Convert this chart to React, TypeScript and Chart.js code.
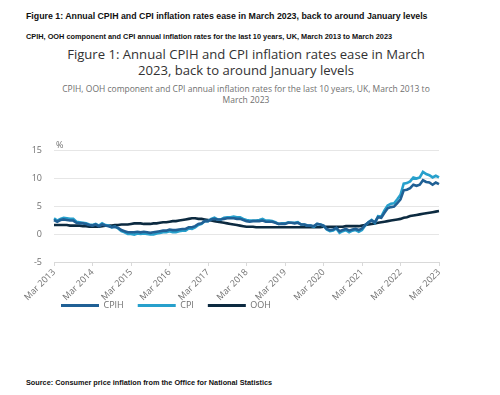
import React, { useEffect, useRef } from "react";
import { Chart, registerables } from "chart.js";

Chart.register(...registerables);

const MONTHS = ["Jan", "Feb", "Mar", "Apr", "May", "Jun", "Jul", "Aug", "Sep", "Oct", "Nov", "Dec"];
const START_YEAR = 2013;
const START_MONTH = 2; // March
const N_POINTS = 121;

const cpih = [
  2.5, 2.2, 2.5, 2.6, 2.5, 2.4, 2.4, 2.0, 1.9, 1.9,
  1.8, 1.6, 1.5, 1.7, 1.4, 1.7, 1.5, 1.4, 1.2, 1.3, 1.1, 0.7,
  0.5, 0.3, 0.3, 0.3, 0.4, 0.3, 0.4, 0.3, 0.2, 0.3, 0.4, 0.5,
  0.6, 0.6, 0.8, 0.7, 0.7, 0.8, 0.9, 0.9, 1.2, 1.2, 1.4, 1.8,
  1.9, 2.3, 2.3, 2.6, 2.7, 2.6, 2.6, 2.7, 2.8, 2.8, 2.8, 2.7,
  2.7, 2.5, 2.3, 2.2, 2.3, 2.3, 2.3, 2.4, 2.2, 2.2, 2.2, 2.0,
  1.8, 1.8, 1.8, 2.0, 2.0, 1.9, 2.0, 1.7, 1.7, 1.5, 1.5, 1.4,
  1.8, 1.7, 1.5, 0.9, 0.7, 0.8, 1.1, 0.5, 0.7, 0.9, 0.6, 0.8,
  0.9, 0.7, 1.0, 1.6, 2.1, 2.4, 2.1, 3.0, 2.9, 3.8, 4.6, 4.8,
  4.9, 5.5, 6.2, 7.8, 7.9, 8.2, 8.8, 8.6, 8.8, 9.6, 9.3, 9.2,
  8.8, 9.2, 8.9,
];

const cpi = [
  2.8, 2.4, 2.7, 2.9, 2.8, 2.7, 2.7, 2.2, 2.1, 2.0,
  1.9, 1.7, 1.6, 1.8, 1.5, 1.9, 1.6, 1.5, 1.2, 1.3, 1.0, 0.5,
  0.3, 0.0, 0.0, -0.1, 0.1, 0.0, 0.1, 0.0, -0.1, -0.1, 0.1, 0.2,
  0.3, 0.3, 0.5, 0.3, 0.3, 0.5, 0.6, 0.6, 1.0, 0.9, 1.2, 1.6,
  1.8, 2.3, 2.3, 2.7, 2.9, 2.6, 2.6, 2.9, 3.0, 3.0, 3.1, 3.0,
  3.0, 2.7, 2.5, 2.4, 2.4, 2.4, 2.5, 2.7, 2.4, 2.4, 2.3, 2.1,
  1.8, 1.9, 1.9, 2.1, 2.0, 2.0, 2.1, 1.7, 1.7, 1.5, 1.5, 1.3,
  1.8, 1.7, 1.5, 0.8, 0.5, 0.6, 1.0, 0.2, 0.5, 0.7, 0.3, 0.6,
  0.7, 0.4, 0.7, 1.5, 2.1, 2.5, 2.0, 3.2, 3.1, 4.2, 5.1, 5.4,
  5.5, 6.2, 7.0, 9.0, 9.1, 9.4, 10.1, 9.9, 10.1, 11.1, 10.7, 10.5,
  10.1, 10.4, 10.1,
];

const ooh = [
  1.6, 1.6, 1.6, 1.6, 1.6, 1.5, 1.5, 1.5, 1.5, 1.4, 1.4, 1.3,
  1.3, 1.3, 1.3, 1.4, 1.5, 1.5, 1.5, 1.6, 1.6, 1.7, 1.7, 1.7,
  1.8, 1.9, 1.9, 1.9, 1.8, 1.8, 1.8, 1.9, 1.9, 2.0, 2.1, 2.1,
  2.2, 2.3, 2.3, 2.4, 2.5, 2.6, 2.7, 2.8, 2.8, 2.7, 2.7, 2.6,
  2.5, 2.4, 2.3, 2.2, 2.1, 2.0, 1.9, 1.8, 1.7, 1.6, 1.5, 1.4,
  1.3, 1.3, 1.3, 1.2, 1.2, 1.2, 1.2, 1.2, 1.2, 1.2, 1.2, 1.2,
  1.2, 1.2, 1.2, 1.2, 1.2, 1.2, 1.2, 1.2, 1.2, 1.2, 1.2, 1.2,
  1.3, 1.3, 1.3, 1.3, 1.3, 1.3, 1.3, 1.4, 1.4, 1.4, 1.4, 1.4,
  1.5, 1.6, 1.7, 1.8, 1.9, 2.0, 2.1, 2.2, 2.3, 2.4, 2.5, 2.6,
  2.7, 2.9, 3.0, 3.2, 3.3, 3.4, 3.5, 3.6, 3.7, 3.8, 3.9, 4.0,
  4.1,
];

const monthLabels: string[] = [];
for (let i = 0; i < N_POINTS; i++) {
  const m = (START_MONTH + i) % 12;
  const y = START_YEAR + Math.floor((START_MONTH + i) / 12);
  monthLabels.push(MONTHS[m] + " " + y);
}

const seriesNames = ["CPIH", "CPI", "OOH"];
const seriesColors = ["#206095", "#27a0cc", "#0c2a40"];
const yTicks = [-5, 0, 5, 10, 15];

const percentPlugin = {
  id: "percentLabel",
  afterDraw(chart: any) {
    const { ctx, chartArea } = chart;
    ctx.save();
    ctx.font = "9px 'Open Sans'";
    ctx.fillStyle = "#707070";
    ctx.textAlign = "left";
    ctx.textBaseline = "middle";
    ctx.fillText("%", chartArea.left + 2, chartArea.top - 5);
    ctx.restore();
  },
};

// place the legend row under the axis labels, left-aligned like the reference
const legendPlacePlugin = {
  id: "legendPlace",
  afterLayout(chart: any) {
    const lg = chart.legend;
    if (!lg) return;
    const dx = 47 - lg.left;
    const dy = 157 - lg.top;
    lg.left += dx;
    lg.right += dx;
    lg.top += dy;
    lg.bottom += dy;
  },
};

function App() {
  const ref = useRef<HTMLCanvasElement | null>(null);

  useEffect(() => {
    if (!ref.current) return;
    const data = [cpih, cpi, ooh];
    const chart = new Chart(ref.current, {
      type: "line",
      data: {
        labels: monthLabels,
        datasets: seriesNames.map((name, i) => ({
          label: name,
          data: data[i],
          borderColor: seriesColors[i],
          backgroundColor: seriesColors[i],
          borderWidth: 2.6,
          pointRadius: 0,
          tension: 0,
        })),
      },
      options: {
        animation: false,
        responsive: false,
        maintainAspectRatio: false,
        layout: { padding: { left: 20, right: 61, top: 20, bottom: 0 } },
        plugins: {
          tooltip: { enabled: false },
          title: { display: false },
          legend: {
            display: true,
            position: "bottom",
            align: "start",
            labels: {
              boxWidth: 38,
              boxHeight: 3,
              padding: 14,
              color: "#707070",
              font: { family: "'Open Sans'", size: 9 },
              generateLabels: (c: any) =>
                Chart.defaults.plugins.legend.labels
                  .generateLabels(c)
                  .map((l: any) => ({ ...l, lineWidth: 0 })),
            },
          },
        },
        scales: {
          x: {
            type: "category",
            offset: false,
            grid: {
              drawOnChartArea: false,
              drawTicks: true,
              tickLength: 4,
              color: "#d9d9d9",
            },
            border: { display: true, color: "#d9d9d9" },
            ticks: {
              autoSkip: false,
              minRotation: 45,
              maxRotation: 45,
              padding: 1,
              color: "#707070",
              font: { family: "'Open Sans'", size: 9 },
              callback: (_v: any, idx: number) => (idx % 12 === 0 ? monthLabels[idx] : null),
            },
            afterFit: (s: any) => {
              s.height = 40;
              s.paddingLeft = 0;
              s.paddingRight = 0;
            },
          },
          y: {
            min: -5,
            max: 15,
            grid: { color: "#e6e6e6", drawTicks: false },
            border: { display: false },
            afterBuildTicks: (s: any) => {
              s.ticks = yTicks.map((v) => ({ value: v }));
            },
            ticks: {
              padding: 12,
              color: "#707070",
              font: { family: "'Open Sans'", size: 9 },
            },
            afterFit: (s: any) => {
              s.width = 34;
              s.paddingTop = 0;
              s.paddingBottom = 0;
            },
          },
        },
      },
      plugins: [percentPlugin, legendPlacePlugin],
    });
    return () => chart.destroy();
  }, []);

  const abs = (top: number, extra: any = {}) => ({
    position: "absolute" as const,
    top,
    whiteSpace: "nowrap" as const,
    ...extra,
  });

  return (
    <div style={{ position: "absolute", left: 0, top: 0, width: 500, height: 395, background: "#fff", overflow: "hidden" }}>
      <div style={abs(10, { left: 26, font: "bold 8.8px 'Liberation Sans', Arial, sans-serif", lineHeight: "12px", color: "#111" })}>
        Figure 1: Annual CPIH and CPI inflation rates ease in March 2023, back to around January levels
      </div>
      <div style={abs(31, { left: 26, font: "bold 7.35px 'Liberation Sans', Arial, sans-serif", lineHeight: "12px", color: "#111" })}>
        CPIH, OOH component and CPI annual inflation rates for the last 10 years, UK, March 2013 to March 2023
      </div>
      <div style={abs(46, { left: 0, width: 492, textAlign: "center", font: "13.1px 'Open Sans'", lineHeight: "16px", color: "#323132" })}>
        <div>Figure 1: Annual CPIH and CPI inflation rates ease in March</div>
        <div>2023, back to around January levels</div>
      </div>
      <div style={abs(83, { left: 0, width: 492, textAlign: "center", font: "8.5px 'Open Sans'", lineHeight: "11px", color: "#707070" })}>
        <div>CPIH, OOH component and CPI annual inflation rates for the last 10 years, UK, March 2013 to</div>
        <div>March 2023</div>
      </div>
      <canvas ref={ref} width={500} height={205} style={{ position: "absolute", left: 0, top: 130, width: 500, height: 205 }} />
      <div style={abs(377, { left: 26, font: "bold 7.3px 'Liberation Sans', Arial, sans-serif", lineHeight: "12px", color: "#111" })}>
        Source: Consumer price inflation from the Office for National Statistics
      </div>
    </div>
  );
}

export default App;
